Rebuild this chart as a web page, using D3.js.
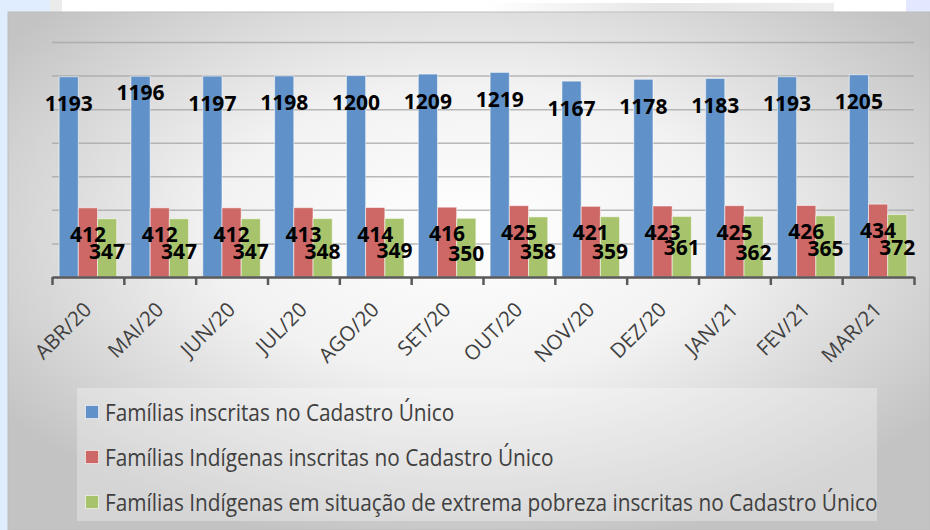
<!DOCTYPE html>
<html>
<head>
<meta charset="utf-8">
<script src="https://cdn.jsdelivr.net/npm/d3@7"></script>
<style>
  body { margin: 0; background: #ffffff; }
  svg { display: block; }
</style>
</head>
<body>
<div id="chart"></div>
<script>
let months = ["ABR/20", "MAI/20", "JUN/20", "JUL/20", "AGO/20", "SET/20", "OUT/20", "NOV/20", "DEZ/20", "JAN/21", "FEV/21", "MAR/21"];
let familias = [1193, 1196, 1197, 1198, 1200, 1209, 1219, 1167, 1178, 1183, 1193, 1205];
let indigenas = [412, 412, 412, 413, 414, 416, 425, 421, 423, 425, 426, 434];
let extremaPobreza = [347, 347, 347, 348, 349, 350, 358, 359, 361, 362, 365, 372];
let seriesNames = [
  "Famílias inscritas no Cadastro Único",
  "Famílias Indígenas inscritas no Cadastro Único",
  "Famílias Indígenas em situação de extrema pobreza inscritas no Cadastro Único"
];
let yTicks = [0, 200, 400, 600, 800, 1000, 1200, 1400];

let width = 930;
let height = 530;
let plot = { left: 52, right: 914, top: 42, bottom: 277 };
let colors = ["#6191c9", "#cd6866", "#a7c46d"];

let series = [familias, indigenas, extremaPobreza];
let rows = [];
months.forEach((m, i) => {
  series.forEach((s, k) => rows.push({ month: m, idx: i, k: k, value: s[i] }));
});

let svg = d3.select('#chart').append('svg')
  .attr('width', width).attr('height', height);

// background gradient of the chart area
let defs = svg.append('defs');
let grad = defs.append('radialGradient').attr('id', 'bg')
  .attr('cx', '50%').attr('cy', '42%').attr('r', '62%');
grad.append('stop').attr('offset', '0%').attr('stop-color', '#ffffff');
grad.append('stop').attr('offset', '45%').attr('stop-color', '#f2f2f2');
grad.append('stop').attr('offset', '100%').attr('stop-color', '#c3c3c3');
let topGrad = defs.append('linearGradient').attr('id', 'topstrip');
topGrad.append('stop').attr('offset', '0%').attr('stop-color', '#ffffff');
topGrad.append('stop').attr('offset', '50%').attr('stop-color', '#e6e6e6');
topGrad.append('stop').attr('offset', '100%').attr('stop-color', '#eeeeee');

// slide pieces around the chart
svg.append('rect').attr('x', 0).attr('y', 0).attr('width', 8).attr('height', height).attr('fill', '#e0edff');
svg.append('rect').attr('x', 0).attr('y', 0).attr('width', 50).attr('height', 12).attr('fill', '#e0edff');
svg.append('rect').attr('x', 50).attr('y', 0).attr('width', 12).attr('height', 12).attr('fill', '#ebebeb');
svg.append('rect').attr('x', 486).attr('y', 3).attr('width', 348).attr('height', 9).attr('fill', 'url(#topstrip)');
svg.append('rect').attr('x', 906).attr('y', 0).attr('width', 24).attr('height', 12).attr('fill', '#e2e8ff');

svg.append('rect')
  .attr('x', 8).attr('y', 12).attr('width', width - 8).attr('height', height - 12)
  .attr('fill', 'url(#bg)').attr('stroke', '#bdbdbd').attr('stroke-width', 1);

let x0 = d3.scaleBand().domain(months).range([plot.left, plot.right]).padding(0);
let x1 = d3.scaleBand().domain([0, 1, 2]).range([0, x0.bandwidth()])
  .paddingInner(0).paddingOuter(0.37);
let yScale = d3.scaleLinear().domain([0, 1400]).range([plot.bottom, plot.top]);

// gridlines
let grid = svg.append('g')
  .attr('transform', 'translate(' + plot.left + ',0)')
  .call(d3.axisLeft(yScale).tickValues(yTicks.slice(1)).tickSize(-(plot.right - plot.left)).tickFormat(''));
grid.select('.domain').remove();
grid.selectAll('line').attr('stroke', '#a3a3a3').attr('stroke-width', 1.5).attr('stroke-opacity', 0.75);

// bars
svg.append('g').selectAll('rect')
  .data(rows)
  .enter()
  .append('rect')
  .attr('x', d => x0(d.month) + x1(d.k))
  .attr('y', d => yScale(d.value))
  .attr('width', x1.bandwidth())
  .attr('height', d => plot.bottom - yScale(d.value))
  .attr('fill', d => colors[d.k])
  .attr('stroke', 'rgba(255,255,255,0.55)')
  .attr('stroke-width', 1);

// x axis with ticks at category boundaries
let edges = d3.scaleLinear().domain([0, months.length]).range([plot.left, plot.right]);
let xAxis = svg.append('g')
  .attr('transform', 'translate(0,' + plot.bottom + ')')
  .call(d3.axisBottom(edges).tickValues(d3.range(months.length + 1)).tickSize(8).tickSizeOuter(0).tickFormat(''));
xAxis.select('.domain').attr('stroke', '#595959').attr('stroke-width', 2.5);
xAxis.selectAll('.tick line').attr('stroke', '#595959').attr('stroke-width', 2.5);

// category labels
svg.append('g').selectAll('text')
  .data(months)
  .enter()
  .append('text')
  .text(d => d)
  .attr('transform', d => {
    let cx = x0(d) + x0.bandwidth() / 2 + 5;
    return 'translate(' + cx + ',' + (plot.bottom + 34) + ') rotate(-45)';
  })
  .attr('text-anchor', 'end')
  .attr('font-family', '"Open Sans", sans-serif')
  .attr('font-size', 20.5)
  .attr('fill', '#404040');

// data labels
let labelDy = [34.5, 34, 40];
let labelNudge = { '1-0': -11, '5-2': 3, '6-2': 2, '7-2': 2, '9-2': 4, '8-2': -1 };
svg.append('g').selectAll('text')
  .data(rows)
  .enter()
  .append('text')
  .text(d => d.value)
  .attr('x', d => x0(d.month) + x1(d.k) + x1.bandwidth() / 2)
  .attr('y', d => yScale(d.value) + labelDy[d.k] + (labelNudge[d.idx + '-' + d.k] || 0))
  .attr('text-anchor', 'middle')
  .attr('font-family', '"Open Sans", sans-serif')
  .attr('font-weight', 'bold')
  .attr('font-size', 21)
  .attr('fill', '#000000');

// legend
let legend = svg.append('g');
legend.append('rect')
  .attr('x', 77).attr('y', 388).attr('width', 800).attr('height', 133)
  .attr('fill', 'rgba(255,255,255,0.3)');
let items = legend.selectAll('g.item')
  .data(seriesNames)
  .enter()
  .append('g')
  .attr('class', 'item')
  .attr('transform', (d, i) => 'translate(85,' + (405 + i * 45) + ')');
items.append('rect')
  .attr('x', 0.5).attr('y', 0.5).attr('width', 13).attr('height', 13)
  .attr('fill', (d, i) => colors[i])
  .attr('stroke', 'rgba(255,255,255,0.6)');
items.append('text')
  .text(d => d)
  .attr('x', 20).attr('y', 15.5)
  .attr('font-family', '"Open Sans", sans-serif')
  .attr('font-size', 23)
  .attr('fill', '#404040')
  .each(function () {
    // Calibri is narrower than Open Sans, squeeze to match
    let len = this.getComputedTextLength();
    d3.select(this).attr('textLength', len * 0.905).attr('lengthAdjust', 'spacingAndGlyphs');
  });
</script>
</body>
</html>
